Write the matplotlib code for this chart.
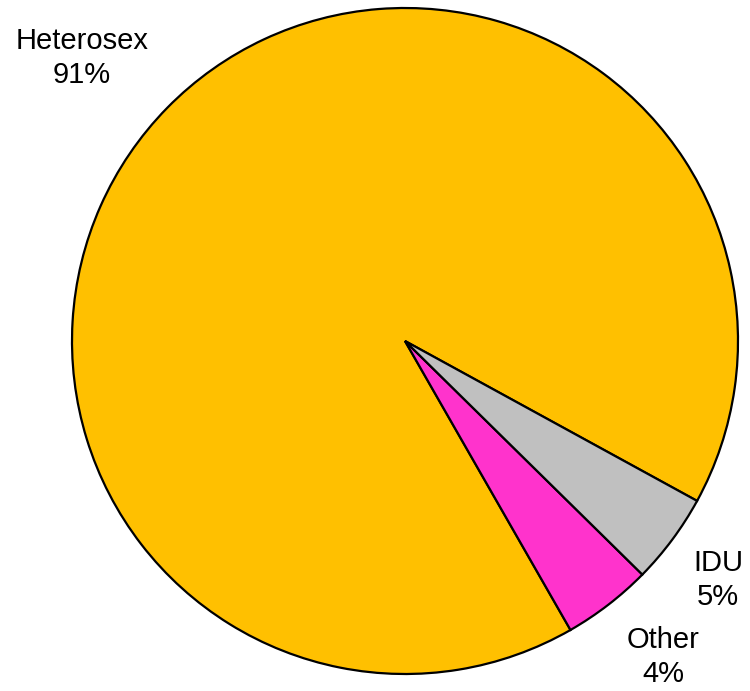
import matplotlib.pyplot as plt

categories = ['Heterosex', 'Other', 'IDU']
shares = [91.25, 4.35, 4.4]
pct_labels = ['91%', '4%', '5%']
colors = ['#FFC000', '#FF33CC', '#C0C0C0']

plt.rcParams['font.family'] = ['Liberation Sans Narrow', 'Liberation Sans', 'DejaVu Sans']

fig = plt.figure(figsize=(7.5, 6.91), dpi=100)
ax = fig.add_axes([0, 0, 1, 1])

ax.pie(shares, colors=colors, startangle=-28.7, counterclock=True,
       radius=1, wedgeprops={'edgecolor': 'black', 'linewidth': 1.6})

# pie centre sits at pixel (405, 341), radius 333 px
r = 333.0
ax.set_xlim(-405 / r, (750 - 405) / r)
ax.set_ylim(-(691 - 341) / r, 341 / r)
ax.set_aspect('auto')
ax.axis('off')

label_pos = {'Heterosex': (-0.970, 0.850), 'Other': (0.775, -0.949), 'IDU': (0.940, -0.718)}
for name, pct in zip(categories, pct_labels):
    x, y = label_pos[name]
    ax.text(x, y, name + '\n' + pct, ha='center', va='center', fontsize=21,
            linespacing=1.25, color='black')

plt.savefig('out.png', dpi=100)
